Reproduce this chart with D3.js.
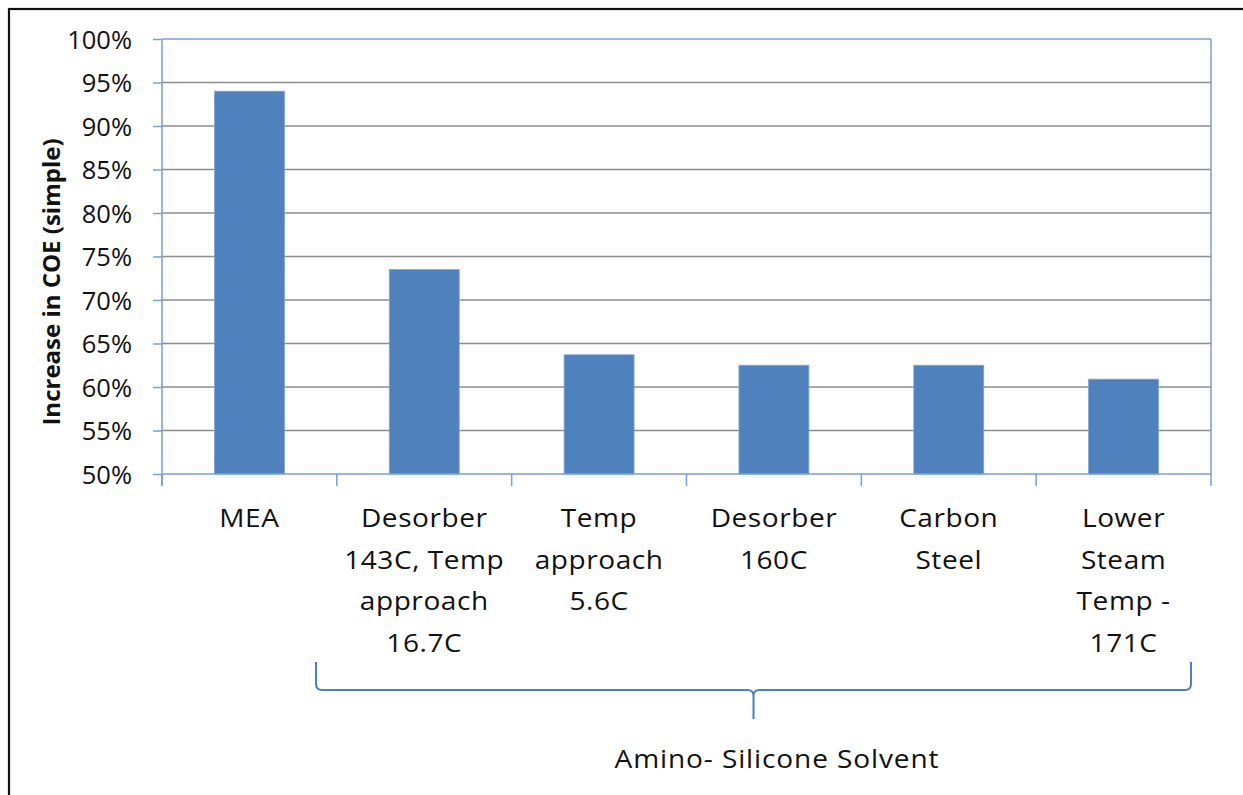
<!DOCTYPE html>
<html>
<head>
<meta charset="utf-8">
<script src="https://cdn.jsdelivr.net/npm/d3@7"></script>
<style>
  html, body { margin: 0; padding: 0; background: #fff; }
  svg { display: block; }
  text { font-family: "Open Sans", "Noto Sans", sans-serif; fill: #111; }
</style>
</head>
<body>
<svg id="chart" width="1243" height="795"></svg>
<script>
// ---- data ----
const categories = ["MEA", "Desorber 143C, Temp approach 16.7C", "Temp approach 5.6C", "Desorber 160C", "Carbon Steel", "Lower Steam Temp - 171C"];
const categoryLines = [
  ["MEA"],
  ["Desorber", "143C, Temp", "approach", "16.7C"],
  ["Temp", "approach", "5.6C"],
  ["Desorber", "160C"],
  ["Carbon", "Steel"],
  ["Lower", "Steam", "Temp -", "171C"]
];
const values = [0.940, 0.735, 0.637, 0.625, 0.625, 0.609];
const yTicks = [0.50, 0.55, 0.60, 0.65, 0.70, 0.75, 0.80, 0.85, 0.90, 0.95, 1.00];
const yTitle = "Increase in COE (simple)";
const groupLabel = "Amino- Silicone Solvent";

// ---- layout ----
const svg = d3.select("#chart");
const L = 162, R = 1211, T = 39, B = 474;
const axisColor = "#7a9fd3";
const gridColor = "#8c8c8c";
const barColor = "#4f81bd";

// outer frame
svg.append("rect").attr("x", 9).attr("y", 9).attr("width", 1260).attr("height", 820)
  .attr("fill", "none").attr("stroke", "#111").attr("stroke-width", 2.2);

const x = d3.scaleBand().domain(categories).range([L, R]).paddingInner(0.6).paddingOuter(0.3);
const y = d3.scaleLinear().domain([0.5, 1.0]).range([B, T]);

// gridlines
svg.append("g").selectAll("line").data(yTicks.filter(v => v > 0.5 && v < 1.0)).join("line")
  .attr("x1", L).attr("x2", R).attr("y1", d => y(d)).attr("y2", d => y(d))
  .attr("stroke", gridColor).attr("stroke-width", 1.3);

// plot border top & right
svg.append("line").attr("x1", L).attr("x2", R).attr("y1", y(1)).attr("y2", y(1))
  .attr("stroke", axisColor).attr("stroke-width", 1.5);
svg.append("line").attr("x1", R).attr("x2", R).attr("y1", y(1)).attr("y2", y(0.5))
  .attr("stroke", axisColor).attr("stroke-width", 1.5);

// bars
svg.append("g").selectAll("rect").data(values).join("rect")
  .attr("x", (d, i) => x(categories[i]))
  .attr("width", x.bandwidth())
  .attr("y", d => y(d))
  .attr("height", d => y(0.5) - y(d))
  .attr("fill", barColor)
  .attr("stroke", "#7fa3d6").attr("stroke-width", 0.8);

// y axis
const yAxis = svg.append("g").attr("transform", `translate(${L},0)`)
  .call(d3.axisLeft(y).tickValues(yTicks).tickFormat(d3.format(".0%")).tickSize(9).tickPadding(21));
yAxis.select(".domain").attr("stroke", axisColor).attr("stroke-width", 1.5)
  .attr("d", `M0,${y(1)}V${B + 12}`);
yAxis.selectAll(".tick line").attr("stroke", axisColor).attr("stroke-width", 1.5);
yAxis.selectAll(".tick text").attr("font-size", 25.5).attr("fill", "#111")
  .attr("font-family", "'Open Sans', sans-serif").attr("dy", "0.36em");

// x axis line and boundary ticks
svg.append("line").attr("x1", L).attr("x2", R).attr("y1", B).attr("y2", B)
  .attr("stroke", axisColor).attr("stroke-width", 1.5);
const boundaries = d3.range(categories.length + 1).map(i => L + i * x.step());
svg.append("g").selectAll("line").data(boundaries).join("line")
  .attr("x1", d => d).attr("x2", d => d).attr("y1", B).attr("y2", B + 12)
  .attr("stroke", axisColor).attr("stroke-width", 1.5);

// category labels (slightly widened glyphs like the reference)
const lineGap = 41.7;
const labelG = svg.append("g");
categoryLines.forEach((lines, i) => {
  const cx = x(categories[i]) + x.bandwidth() / 2;
  const t = labelG.append("text").attr("text-anchor", "middle").attr("font-size", 25.5)
    .attr("letter-spacing", 0.5)
    .attr("transform", `translate(${cx},0) scale(1.1,1)`);
  lines.forEach((ln, j) => {
    t.append("tspan").attr("x", 0).attr("y", 527 + j * lineGap).text(ln);
  });
});

// y title
svg.append("text").attr("transform", `translate(60,${(137 + 427) / 2}) rotate(-90)`)
  .attr("text-anchor", "middle").attr("font-size", 24).attr("font-weight", "bold")
  .text(yTitle);

// bracket
const bl = 316, br = 1191, bc = (bl + br) / 2, by = 690, btop = 662, bbot = 719, r = 6;
const path = d3.path();
path.moveTo(bl, btop); path.lineTo(bl, by - r); path.quadraticCurveTo(bl, by, bl + r, by);
path.lineTo(bc - r, by); path.quadraticCurveTo(bc, by, bc, by + r); path.lineTo(bc, bbot);
path.moveTo(bc, by + r); path.quadraticCurveTo(bc, by, bc + r, by);
path.lineTo(br - r, by); path.quadraticCurveTo(br, by, br, by - r); path.lineTo(br, btop);
svg.append("path").attr("d", path.toString()).attr("fill", "none")
  .attr("stroke", "#4f7fc0").attr("stroke-width", 2);

// group label
svg.append("text").attr("transform", "translate(777,768) scale(1.1,1)").attr("text-anchor", "middle")
  .attr("font-size", 25.5).attr("letter-spacing", 0.8).text(groupLabel);
</script>
</body>
</html>
